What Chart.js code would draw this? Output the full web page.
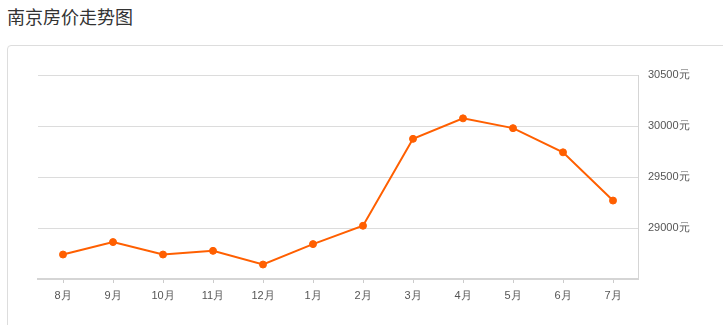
<!DOCTYPE html>
<html>
<head>
<meta charset="utf-8">
<script src="https://cdn.jsdelivr.net/npm/chart.js@4/dist/chart.umd.min.js"></script>
<style>
  body { margin: 0; background: #fff; font-family: "Noto Sans CJK SC", "Microsoft YaHei", sans-serif; }
  .title { position: absolute; left: 7px; top: 3px; font-size: 18px; color: #333; }
  .panel { position: absolute; left: 7px; top: 45px; width: 740px; height: 300px;
           border: 1px solid #ddd; border-radius: 4px; }
  .chart-con { position: absolute; left: 0; top: 0; width: 723px; height: 325px; }
</style>
</head>
<body>
<div class="title">南京房价走势图</div>
<div class="panel"></div>
<div class="chart-con"><canvas id="myChart"></canvas></div>
<script>
const months = ['8月', '9月', '10月', '11月', '12月', '1月', '2月', '3月', '4月', '5月', '6月', '7月'];
const prices = [28740, 28862, 28740, 28776, 28642, 28842, 29022, 29874, 30075, 29979, 29742, 29269];
const yMin = 28500;
const yMax = 30500;

const ctx = document.getElementById('myChart').getContext('2d');
new Chart(ctx, {
    type: 'line',
    data: {
        labels: months,
        datasets: [{
            data: prices,
            borderColor: '#ff5f00',
            backgroundColor: '#ff5f00',
            borderWidth: 2,
            pointRadius: 3.5,
            pointBorderWidth: 1,
            pointHoverRadius: 4,
            tension: 0
        }]
    },
    options: {
        responsive: true,
        maintainAspectRatio: false,
        animation: false,
        layout: { padding: { left: 38, top: 75, right: 0, bottom: 0 } },
        plugins: { legend: { display: false }, tooltip: { enabled: false } },
        scales: {
            x: {
                offset: true,
                grid: { offset: false, drawOnChartArea: false, drawTicks: true, tickLength: 4, color: '#ccc' },
                border: { color: '#d5d5d5', width: 2 },
                ticks: { color: '#555', font: { size: 11 }, padding: 6, maxRotation: 0 },
                afterFit: s => { s.height = 46; }
            },
            y: {
                position: 'right',
                min: yMin,
                max: yMax,
                grid: { color: '#dcdcdc', drawTicks: false },
                border: { display: false },
                ticks: {
                    stepSize: 500,
                    color: '#555',
                    font: { size: 11 },
                    padding: 10,
                    callback: v => v === yMin ? '' : v + '元'
                },
                afterFit: s => { s.width = 85; }
            }
        }
    },
    plugins: [{
        id: 'rightBorder',
        afterDraw(chart) {
            const a = chart.chartArea;
            const c = chart.ctx;
            c.save();
            c.strokeStyle = '#d5d5d5';
            c.lineWidth = 1;
            c.beginPath();
            c.moveTo(a.right + 0.5, a.top);
            c.lineTo(a.right + 0.5, a.bottom);
            c.stroke();
            c.restore();
        }
    }]
});
</script>
</body>
</html>
